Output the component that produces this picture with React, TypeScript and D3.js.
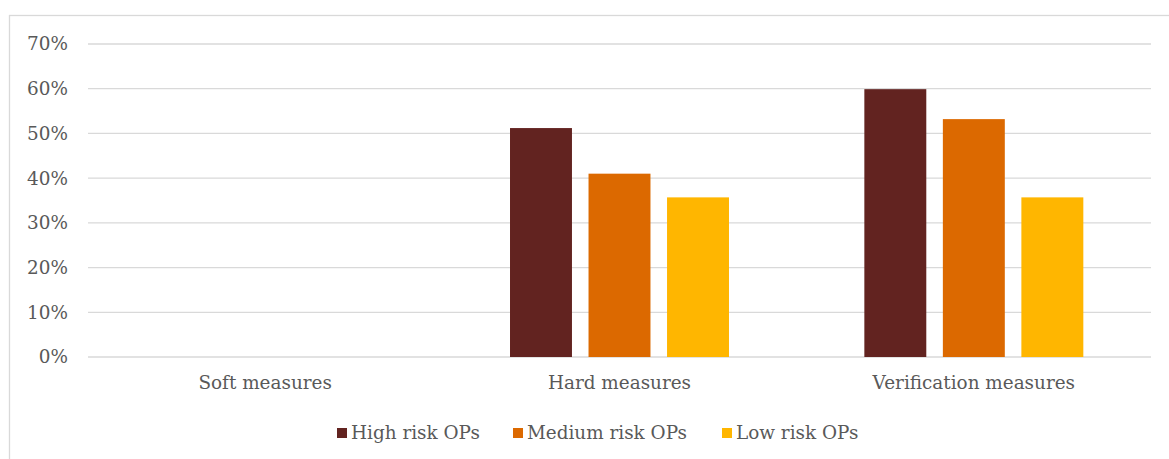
import React from "react";
import * as d3 from "d3";

const categories = ["Soft measures", "Hard measures", "Verification measures"];
const seriesNames = ["High risk OPs", "Medium risk OPs", "Low risk OPs"];
const highRisk = [0, 0.512, 0.599];
const mediumRisk = [0, 0.41, 0.532];
const lowRisk = [0, 0.357, 0.357];
const yTicks = [0, 0.1, 0.2, 0.3, 0.4, 0.5, 0.6, 0.7];

const colors = ["#622320", "#DC6900", "#FFB600"];
const seriesValues = [highRisk, mediumRisk, lowRisk];

const W = 1169;
const H = 459;
const plot = { left: 88, right: 1151, top: 44, bottom: 357 };
const font = "'DejaVu Serif', Georgia, serif";
const fontSize = 18.4;
const textColor = "#595959";
const gridColor = "#d9d9d9";

// legend swatch x positions (measured off the layout)
const legendX = [337, 513, 722];

export default function App() {
  const x = d3
    .scaleBand<string>()
    .domain(categories)
    .range([plot.left, plot.right])
    .paddingInner(0)
    .paddingOuter(0);

  const gap = x.bandwidth() * 0.191;
  const xInner = d3
    .scaleBand<string>()
    .domain(seriesNames)
    .range([gap, x.bandwidth() - gap])
    .paddingInner(0.211)
    .paddingOuter(0);

  const y = d3.scaleLinear().domain([0, 0.7]).range([plot.bottom, plot.top]);
  const fmt = d3.format(".0%");

  return (
    <svg
      width={W}
      height={H}
      style={{ position: "absolute", left: 0, top: 0, background: "#fff" }}
    >
      <rect
        x={9.5}
        y={15.5}
        width={W + 20}
        height={H + 20}
        fill="#fff"
        stroke={gridColor}
        strokeWidth={1.3}
      />

      {yTicks.map((t) => (
        <g key={t}>
          <line
            x1={plot.left}
            x2={plot.right}
            y1={y(t)}
            y2={y(t)}
            stroke={gridColor}
            strokeWidth={1.3}
          />
          <text
            x={68}
            y={y(t)}
            dy="0.35em"
            textAnchor="end"
            fontFamily={font}
            fontSize={fontSize}
            fill={textColor}
          >
            {fmt(t)}
          </text>
        </g>
      ))}

      {categories.map((c, ci) => (
        <g key={c} transform={`translate(${x(c)},0)`}>
          {seriesNames.map((s, si) => {
            const v = seriesValues[si][ci];
            if (!v) return null;
            return (
              <rect
                key={s}
                x={xInner(s)}
                y={y(v)}
                width={xInner.bandwidth()}
                height={y(0) - y(v)}
                fill={colors[si]}
              />
            );
          })}
          <text
            x={x.bandwidth() / 2}
            y={383}
            dy="0.35em"
            textAnchor="middle"
            fontFamily={font}
            fontSize={fontSize}
            fill={textColor}
          >
            {c}
          </text>
        </g>
      ))}

      {seriesNames.map((s, si) => (
        <g key={s} transform={`translate(${legendX[si]},428)`}>
          <rect width={10} height={10} fill={colors[si]} />
          <text
            x={14}
            y={5}
            dy="0.35em"
            fontFamily={font}
            fontSize={fontSize}
            fill={textColor}
          >
            {s}
          </text>
        </g>
      ))}
    </svg>
  );
}
